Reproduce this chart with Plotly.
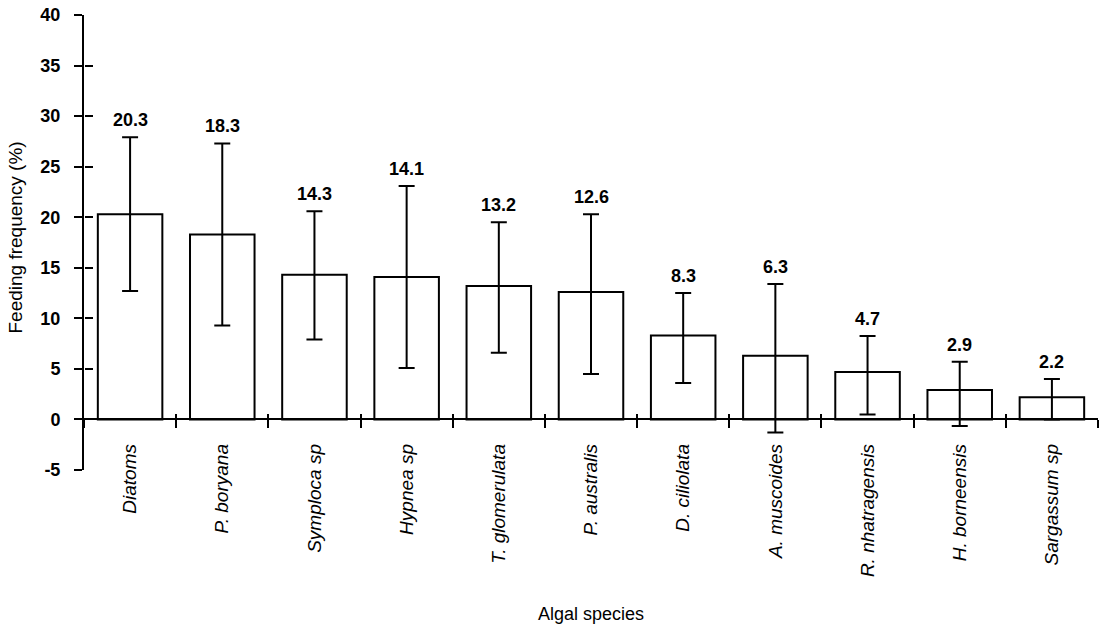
import plotly.graph_objects as go

species = ["Diatoms", "P. boryana", "Symploca sp", "Hypnea sp", "T. glomerulata",
           "P. australis", "D. ciliolata", "A. muscoides", "R. nhatragensis",
           "H. borneensis", "Sargassum sp"]
feeding_freq = [20.3, 18.3, 14.3, 14.1, 13.2, 12.6, 8.3, 6.3, 4.7, 2.9, 2.2]
sd_plus = [7.6, 9.0, 6.3, 9.0, 6.3, 7.7, 4.2, 7.1, 3.55, 2.8, 1.8]
sd_minus = [7.6, 9.0, 6.4, 9.0, 6.6, 8.1, 4.7, 7.6, 4.2, 3.56, 2.2]
y_ticks = [-5, 0, 5, 10, 15, 20, 25, 30, 35, 40]
y_tick_text = ["-5", "0", "5", "10", "15", "20", "25", "30", "35", "40"]

FONT = "Liberation Sans, Arial, Helvetica, sans-serif"
Y_MIN, Y_MAX = -5, 40
n = len(species)

fig = go.Figure()
fig.add_trace(go.Bar(
    x=species, y=feeding_freq, width=0.7,
    marker=dict(color="white", line=dict(color="black", width=2)),
    error_y=dict(type="data", symmetric=False, array=sd_plus, arrayminus=sd_minus,
                 color="black", thickness=2, width=8),
    showlegend=False,
))
# helper trace for overlay axes (crossing ticks)
fig.add_trace(go.Scatter(x=[None], y=[None], xaxis="x2", yaxis="y2",
                         showlegend=False, hoverinfo="skip"))

for sp, v, e in zip(species, feeding_freq, sd_plus):
    fig.add_annotation(x=sp, y=v + e, text=f"{v}", showarrow=False,
                       yshift=17, yanchor="middle",
                       font=dict(family=FONT, size=18, color="black", weight="bold"))

zero_pos = (0 - Y_MIN) / (Y_MAX - Y_MIN)

fig.update_layout(
    width=1108, height=629,
    margin=dict(l=84, r=10, t=15, b=159),
    paper_bgcolor="white", plot_bgcolor="white",
    font=dict(family=FONT, size=18, color="black"),
    bargap=0.3,
    xaxis=dict(
        type="category", categoryorder="array", categoryarray=species,
        range=[-0.5, n - 0.5], anchor="free", position=zero_pos,
        showline=True, linecolor="black", linewidth=2,
        ticks="outside", ticklen=8, tickwidth=2, tickcolor="black",
        tickson="boundaries", tickangle=-90,
        tickfont=dict(family=FONT, size=19, style="italic"),
        ticklabelstandoff=16,
        showgrid=False, zeroline=False, automargin=False, fixedrange=True,
    ),
    xaxis2=dict(
        type="linear", range=[-0.5, n - 0.5], overlaying="x", anchor="free",
        position=zero_pos,
        tickmode="array", tickvals=[i - 0.5 for i in range(n + 1)],
        ticks="inside", ticklen=5, tickwidth=2, tickcolor="black",
        showticklabels=False, showline=False, showgrid=False, zeroline=False,
    ),
    yaxis=dict(
        range=[Y_MIN, Y_MAX], tickmode="array", tickvals=y_ticks, ticktext=y_tick_text,
        showline=True, linecolor="black", linewidth=2,
        ticks="outside", ticklen=8, tickwidth=2, tickcolor="black",
        tickfont=dict(family=FONT, size=18, weight="bold"),
        ticklabelstandoff=10,
        showgrid=False, zeroline=False, automargin=False, fixedrange=True,
    ),
    yaxis2=dict(
        range=[Y_MIN, Y_MAX], overlaying="y", anchor="free", position=0,
        tickmode="array", tickvals=y_ticks,
        ticks="inside", ticklen=8, tickwidth=2, tickcolor="black",
        showticklabels=False, showline=False, showgrid=False, zeroline=False,
    ),
)

fig.add_annotation(text="Algal species", xref="paper", yref="paper",
                   x=0.5, y=(470 - 614) / 455, showarrow=False,
                   xanchor="center", yanchor="middle",
                   font=dict(family=FONT, size=18))
fig.add_annotation(text="Feeding frequency (%)", xref="paper", yref="paper",
                   x=-0.068, y=0.511, showarrow=False, textangle=-90,
                   xanchor="center", yanchor="middle",
                   font=dict(family=FONT, size=19))

fig.write_html("out.html")
